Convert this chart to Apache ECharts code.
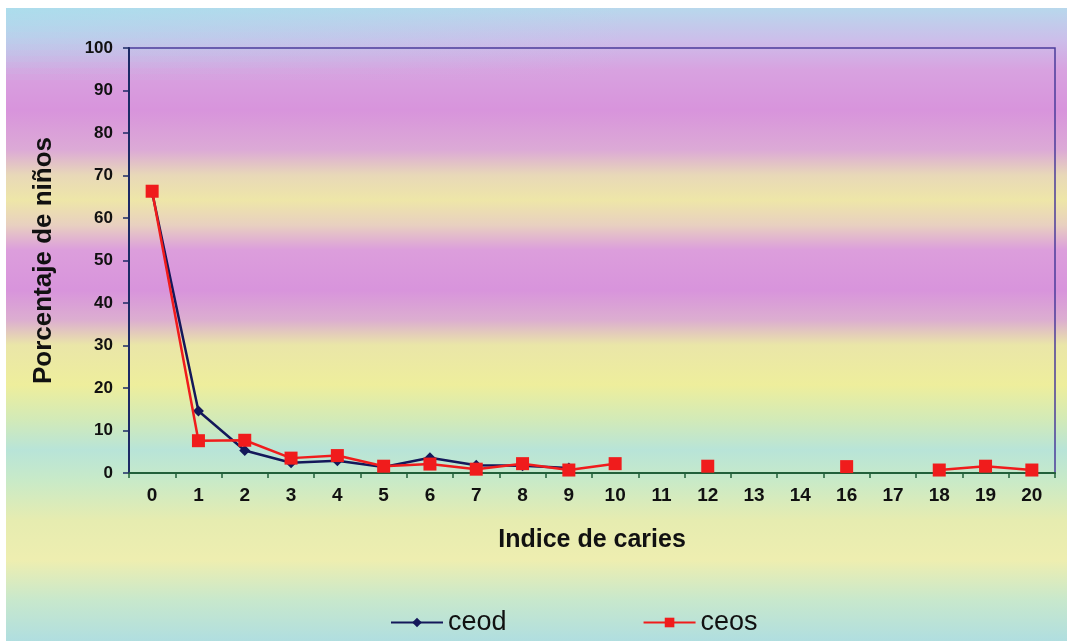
<!DOCTYPE html>
<html>
<head>
<meta charset="utf-8">
<script src="https://cdn.jsdelivr.net/npm/echarts@6/dist/echarts.min.js"></script>
<style>html,body{margin:0;padding:0;background:#fff}#c{width:1067px;height:641px}</style>
</head>
<body>
<div id="c"></div>
<script>
const categories = ['0','1','2','3','4','5','6','7','8','9','10','11','12','13','14','16','17','18','19','20'];
const ceod = [66.0, 14.6, 5.3, 2.4, 2.9, 1.4, 3.6, 1.8, 1.7, 1.2, null, null, null, null, null, null, null, null, null, null];
const ceos = [66.3, 7.6, 7.7, 3.5, 4.1, 1.6, 2.1, 0.9, 2.2, 0.7, 2.2, null, 1.6, null, null, 1.5, null, 0.7, 1.6, 0.7];
const yTicks = [0,10,20,30,40,50,60,70,80,90,100];

const FONT = "'Liberation Sans', Arial, sans-serif";
const chart = echarts.init(document.getElementById('c'), null, {renderer: 'canvas'});

const H = 641;
function s(y){ return Math.max(0, Math.min(1, (y - 8) / (H - 8))); }
const bgStops = [
  [8,'#b8d8ec'],[40,'#ccbeea'],[70,'#d8a2e0'],[110,'#d894dc'],[150,'#dcaad6'],
  [175,'#e8d8b8'],[200,'#eee6a8'],[225,'#e8d0c0'],[250,'#dc9edc'],[290,'#d894dc'],
  [320,'#dcaed0'],[345,'#eae6a8'],[385,'#eeee9c'],[420,'#d2eab8'],[450,'#b8e4d8'],
  [480,'#c8eac8'],[520,'#e6ecb0'],[560,'#eeeeb0'],[600,'#c8e8cc'],[641,'#b0dee0']
].map(([y,c]) => ({offset: s(y), color: c}));

// soft cyan tint in the top-left corner, built from thin fading strips
const strips = [];
const NS = 12;
for (let i = 0; i < NS; i++) {
  const a = 0.8 * (1 - i / NS);
  strips.push({type: 'rect', silent: true, z: -9,
    shape: {x: 6, y: 8 + i * 6, width: 620, height: 6},
    style: {fill: new echarts.graphic.LinearGradient(0, 0, 1, 0, [
      {offset: 0, color: 'rgba(170,222,236,' + a + ')'},
      {offset: 0.55, color: 'rgba(170,222,236,' + (a * 0.5) + ')'},
      {offset: 1, color: 'rgba(170,222,236,0)'}])}});
}

chart.setOption({
  backgroundColor: '#ffffff',
  animation: false,
  graphic: [
    {type: 'rect', silent: true, z: -10, shape: {x: 6, y: 8, width: 1061, height: 633},
     style: {fill: new echarts.graphic.LinearGradient(0, 0, 0, 1, bgStops)}}
  ].concat(strips),
  grid: {left: 129, right: 12, top: 48, bottom: 168, show: true, borderColor: '#4b3d9a', borderWidth: 1.5, backgroundColor: 'transparent'},
  legend: {
    left: 385, top: 604, itemWidth: 52, itemHeight: 12, itemGap: 136,
    textStyle: {fontFamily: FONT, fontSize: 27, color: '#111'},
    data: ['ceod', 'ceos']
  },
  xAxis: {
    type: 'category', data: categories, boundaryGap: true,
    name: 'Indice de caries', nameLocation: 'middle', nameGap: 55,
    nameTextStyle: {fontFamily: FONT, fontSize: 25, fontWeight: 'bold', color: '#111'},
    axisLine: {lineStyle: {color: '#22603a', width: 2}},
    axisTick: {show: true, interval: 0, length: 5, lineStyle: {color: '#22603a', width: 1.5}},
    axisLabel: {interval: 0, margin: 13, fontFamily: FONT, fontSize: 19, fontWeight: 'bold', color: '#111'},
    splitLine: {show: false}
  },
  yAxis: {
    type: 'value', min: 0, max: 100, interval: 10,
    name: 'Porcentaje de niños', nameLocation: 'middle', nameGap: 72, nameRotate: 90,
    nameTextStyle: {fontFamily: FONT, fontSize: 26, fontWeight: 'bold', color: '#111'},
    axisLine: {show: true, lineStyle: {color: '#1c2a66', width: 2}},
    axisTick: {show: true, length: 6, lineStyle: {color: '#1c2a66', width: 1.5}},
    axisLabel: {margin: 16, fontFamily: FONT, fontSize: 17, fontWeight: 'bold', color: '#111',
      formatter: v => yTicks.includes(v) ? String(v) : ''},
    splitLine: {show: false}
  },
  series: [
    {name: 'ceod', type: 'line', data: ceod, symbol: 'diamond', symbolSize: 11,
     connectNulls: false, z: 3,
     lineStyle: {color: '#14185a', width: 2.5}, itemStyle: {color: '#14185a'}},
    {name: 'ceos', type: 'line', data: ceos, symbol: 'rect', symbolSize: 13,
     connectNulls: false, z: 4,
     lineStyle: {color: '#f01c1c', width: 2.5}, itemStyle: {color: '#f01c1c'}}
  ]
});
</script>
</body>
</html>
